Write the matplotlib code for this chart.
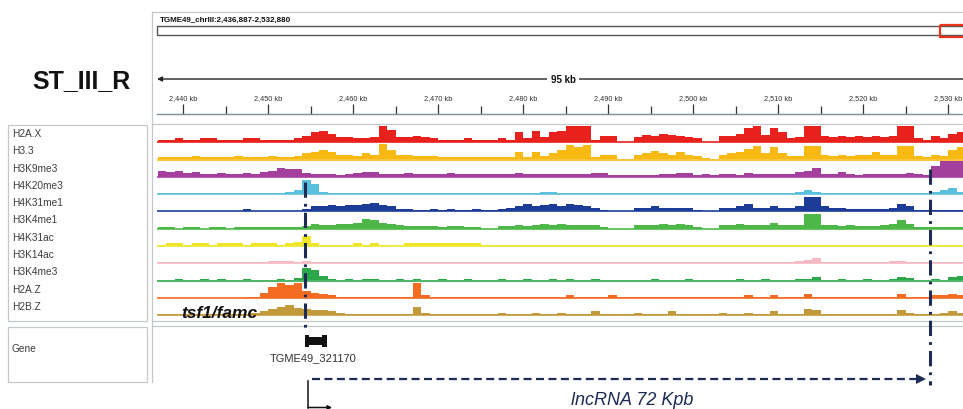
import numpy as np
import matplotlib
matplotlib.use('Agg')
import matplotlib.pyplot as plt
from matplotlib.patches import Rectangle
from matplotlib.ticker import FuncFormatter

plt.rcParams['font.family'] = ['Liberation Sans', 'DejaVu Sans']

W, H = 963, 410

# genomic window shown (kb) and 1 kb bins for the coverage tracks
view_start = 2436.887
view_end = 2531.76
bin_edges = np.arange(2437, 2533)
major_ticks = np.arange(2440, 2531, 10)
minor_ticks = np.arange(2445, 2531, 10)

# gene / lncRNA annotation (kb)
gene_start = 2454.35
gene_end = 2456.9
tss = 2454.7
lnc_end = 2527.9

# coverage values, one value per 1 kb bin
h2ax = [2, 2, 3, 2, 2, 3, 3, 2, 2, 2,
        3, 3, 2, 2, 2, 2, 3, 5, 8, 9,
        7, 4, 4, 3, 3, 4, 15, 10, 4, 4,
        5, 4, 3, 2, 2, 2, 3, 2, 2, 2,
        3, 2, 8, 3, 9, 4, 8, 9, 14, 13,
        14, 2, 5, 5, 0, 0, 4, 6, 5, 7,
        6, 5, 4, 3, 0, 0, 5, 5, 7, 12,
        13, 6, 12, 8, 3, 4, 14, 14, 5, 4,
        5, 4, 5, 4, 5, 4, 5, 14, 14, 3,
        2, 5, 3, 7, 8]
h33 = [2, 2, 2, 2, 3, 2, 2, 2, 2, 3,
       2, 2, 2, 3, 2, 2, 3, 5, 6, 8,
       6, 4, 4, 3, 5, 4, 13, 8, 4, 4,
       3, 3, 3, 2, 2, 2, 2, 2, 2, 2,
       2, 2, 6, 2, 6, 3, 5, 8, 12, 10,
       12, 2, 4, 4, 0, 0, 4, 5, 7, 5,
       4, 6, 4, 3, 1, 0, 4, 5, 6, 9,
       11, 5, 10, 5, 3, 3, 11, 11, 4, 3,
       4, 3, 4, 4, 6, 4, 4, 11, 11, 3,
       2, 4, 3, 8, 10]
h3k9me3 = [5, 4, 5, 3, 4, 2, 2, 3, 2, 2,
           3, 2, 4, 5, 7, 6, 6, 3, 2, 2,
           2, 1, 2, 3, 4, 4, 2, 2, 2, 3,
           2, 2, 2, 2, 3, 2, 2, 2, 2, 2,
           2, 2, 3, 2, 2, 2, 2, 2, 2, 2,
           2, 3, 3, 1, 1, 1, 1, 1, 1, 2,
           2, 3, 3, 1, 2, 1, 2, 2, 1, 3,
           2, 2, 2, 2, 2, 4, 5, 7, 2, 2,
           4, 2, 1, 2, 2, 2, 2, 2, 3, 2,
           1, 9, 13, 13, 13]
h4k20me3 = [.5, .5, 1, .5, .5, 1, .5, .5, .5, 1,
            .5, .5, .5, 1, 1, 2, 3, 12, 8, 2,
            1, .5, .5, 1, .5, .5, .5, 1, .5, .5,
            .5, .5, 1, .5, .5, .5, .5, .5, .5, 1,
            .5, .5, .5, .5, 1, 1.5, 1.5, 1, .5, .5,
            .5, .5, .5, .5, .5, .5, .5, .5, .5, .5,
            .5, .5, .5, .5, .5, .5, .5, 1, .5, .5,
            .5, .5, 1, .5, .5, 2, 3, 2, 1, .5,
            .5, .5, .5, .5, 1, .5, .5, .5, 1, .5,
            .5, 2, 3, 5, 2]
h4k31me1 = [0, 0, 0, 0, 0, 0, 0, 0, 0, 0,
            2, 0, 0, 0, 0, 0, 0, 2, 4, 4,
            5, 4, 5, 5, 6, 7, 5, 4, 2, 2,
            1, 1, 2, 1, 2, 1, 1, 2, 1, 1,
            2, 3, 4, 6, 4, 5, 6, 4, 6, 5,
            4, 3, 1, 0, 0, 0, 3, 3, 4, 3,
            3, 3, 3, 1, 0, 0, 3, 3, 4, 6,
            3, 3, 4, 3, 3, 4, 12, 12, 4, 3,
            3, 2, 2, 2, 2, 2, 3, 6, 4, 1,
            1, 1, 1, 1, 1]
h3k4me1 = [1, 1, 0, 1, 1, 0, 1, 1, 0, 1,
           1, 1, 1, 1, 1, 1, 1, 2, 4, 3,
           3, 4, 4, 5, 8, 7, 5, 4, 3, 2,
           2, 2, 2, 1, 2, 2, 1, 1, 0, 0,
           2, 2, 3, 2, 3, 4, 3, 4, 3, 3,
           3, 3, 1, 0, 0, 0, 3, 3, 3, 4,
           3, 4, 3, 1, 0, 0, 3, 3, 4, 3,
           3, 3, 5, 3, 3, 3, 12, 12, 3, 3,
           2, 3, 2, 2, 2, 3, 4, 7, 4, 1,
           1, 1, 1, 1, 1]
h4k31ac = [1, 2, 2, 1, 2, 2, 1, 2, 2, 2,
           1, 2, 2, 2, 1, 2, 3, 8, 2, 1,
           1, 1, 1, 2, 1, 2, 1, 0, 0, 2,
           2, 2, 2, 2, 2, 2, 2, 2, 1, .5,
           .5, .5, .5, .5, .5, .5, .5, .5, .5, .5,
           .5, .5, .5, .5, .5, .5, .5, .5, .5, .5,
           .5, .5, .5, .5, .5, .5, 1, .5, .5, 1,
           .5, .5, .5, .5, .5, .5, .5, 1, .5, .5,
           .5, .5, .5, .5, .5, .5, 1, .5, .5, .5,
           .5, .5, .5, .5, .5]
h3k14ac = [1, 1, 1, 1, 1, 1, 1, 1, 1, 1,
           1, 1, 1, 2, 2, 2, 1, 2, 1, 1,
           1, 1, 1, 1, 1, 1, 1, 1, 1, 1,
           1, 1, 1, 1, 1, 1, 1, 1, 1, 1,
           1, 1, 1, 1, 1, 1, 1, 1, 1, 1,
           1, 1, 1, 1, 1, 1, 1, 1, 1, 1,
           1, 1, 1, 1, 1, 1, 1, 1, 1, 1,
           1, 1, 1, 1, 1, 2, 3, 4, 1, 1,
           1, 1, 1, 1, 1, 1, 2, 2, 1, 1,
           1, 1, 1, 1, 1]
h3k4me3 = [.5, .5, 1, .5, .5, 1, .5, 1.5, .5, .5,
           1, .5, .5, .5, 1, .5, 2, 10, 9, 4,
           1, .5, 1, .5, 1, 1.5, .5, .5, 1, .5,
           1, .5, .5, 1, .5, .5, 1, .5, .5, .5,
           1, .5, .5, 1, .5, .5, 1, .5, 1, .5,
           .5, 1, .5, .5, .5, .5, .5, .5, 1, .5,
           .5, .5, 1, .5, .5, .5, .5, .5, 1, .5,
           .5, 1, .5, .5, .5, 1, 1, 3, .5, .5,
           1, .5, .5, 1, .5, .5, 1, 3, 2, .5,
           .5, 1, .5, 3, 4]
h2az = [0, 0, 0, 0, 0, 0, 0, 0, 0, 0,
        1, 1, 4, 9, 12, 11, 12, 6, 4, 3,
        2, 1, 1, 1, 1, 1, 1, 1, 1, 1,
        12, 2, 1, .5, .5, 1, .5, .5, .5, .5,
        .5, .5, 1, .5, .5, .5, .5, 1, 2, .5,
        .5, .5, .5, 2, .5, .5, .5, .5, .5, .5,
        .5, .5, .5, .5, .5, .5, .5, .5, .5, 2,
        .5, .5, 2, .5, .5, .5, 3, 1, .5, .5,
        .5, .5, .5, .5, .5, .5, 1, 3, 1, .5,
        .5, 2, 2, 3, 2]
h2bz = [1, 1, 1, 1, 1, 1, 1, 1, 1, 1,
        1, 2, 3, 5, 7, 8, 6, 5, 4, 4,
        3, 2, 1, 1, 1, 1, 1, 1, 1, 1,
        7, 2, 1, 1, 1, 1, 1, 1, 1, 1,
        2, 1, 1, 1, 2, 1, 1, 2, 1, 1,
        1, 3, 1, 1, 1, 1, 2, 1, 1, 1,
        3, 1, 1, 1, 1, 1, 2, 1, 1, 2,
        1, 1, 3, 1, 1, 1, 5, 4, 1, 1,
        1, 1, 1, 1, 1, 1, 1, 4, 2, 1,
        1, 1, 2, 3, 2]

track_names = ['H2A.X', 'H3.3', 'H3K9me3', 'H4K20me3', 'H4K31me1', 'H3K4me1',
               'H4K31ac', 'H3K14ac', 'H3K4me3', 'H2A.Z', 'H2B.Z']
track_values = [h2ax, h33, h3k9me3, h4k20me3, h4k31me1, h3k4me1,
                h4k31ac, h3k14ac, h3k4me3, h2az, h2bz]
track_colors = ['#e8211c', '#f8b912', '#a43f9e', '#5bc0dd', '#1c3c98', '#4db848',
                '#efe62a', '#f6b9c3', '#2ca84b', '#f36c21', '#c39a3b']

navy = '#1d2b55'
border = '#c4c8cc'


def rect(x0, y0, x1, y1):
    # pixel box -> figure fraction
    return [x0 / W, 1 - y1 / H, (x1 - x0) / W, (y1 - y0) / H]


fig = plt.figure(figsize=(W / 100, H / 100), dpi=100)

# coverage tracks (data range clipped like the browser does -> flat tops)
for i, (name, vals, col) in enumerate(zip(track_names, track_values, track_colors)):
    base = 143 + 17.3 * i
    ax = fig.add_axes(rect(157, base - 16.1, 963, base + 1.2))
    ax.stairs(vals, bin_edges, fill=True, color=col, baseline=0, lw=0)
    ax.axhline(-0.2, color=col, lw=1.4, alpha=0.85)
    ax.set_xlim(view_start, view_end)
    ax.set_ylim(-1.0, 13.5)
    ax.set_facecolor('none')
    ax.axis('off')

# ruler
rl = fig.add_axes(rect(157, 115, 963, 116))
rl.set_xlim(view_start, view_end)
rl.set_ylim(0, 1)
rl.set_facecolor('none')
for s in ['left', 'right', 'bottom']:
    rl.spines[s].set_visible(False)
rl.spines['top'].set_color('#7f8c99')
rl.spines['top'].set_linewidth(1.0)
rl.xaxis.tick_top()
rl.set_xticks(major_ticks)
rl.set_xticks(minor_ticks, minor=True)
rl.xaxis.set_major_formatter(FuncFormatter(lambda v, p: f'{int(v):,} kb'))
rl.tick_params(axis='x', which='major', direction='out', length=7, width=0.9,
               color='#333333', labelsize=5.3, labelcolor='#333333', pad=2.5)
rl.tick_params(axis='x', which='minor', direction='out', length=6, width=0.9,
               color='#333333')
rl.set_yticks([])

# layout frame, labels
fr = fig.add_axes([0, 0, 1, 1])
fr.set_xlim(0, W)
fr.set_ylim(H, 0)
fr.axis('off')
fr.set_facecolor('none')
fr.set_zorder(10)

fr.plot([152, 963], [13, 13], color=border, lw=0.9)
fr.plot([152, 152], [13, 383], color=border, lw=0.9)
fr.plot([152, 963], [125, 125], color=border, lw=0.9)
fr.plot([152, 963], [322, 322], color=border, lw=0.9)
fr.plot([152, 963], [327, 327], color=border, lw=0.9)
fr.add_patch(Rectangle((8, 126), 139, 196, fill=False, ec=border, lw=0.9))
fr.add_patch(Rectangle((8, 328), 139, 55, fill=False, ec=border, lw=0.9))

fr.text(32, 88, 'ST_III_R', fontsize=18, fontweight='bold', color='#111111',
        va='baseline', ha='left')
fr.text(160, 20, 'TGME49_chrIII:2,436,887-2,532,880', fontsize=5.8,
        fontweight='bold', color='#111111', va='center', ha='left')

# chromosome ideogram with current-view box
fr.add_patch(Rectangle((157, 27), 820, 9, fill=False, ec='#555555', lw=1.0))
fr.add_patch(Rectangle((940, 25.5), 30, 12, fill=False, ec='#e8321e', lw=1.6))

# span line
fr.annotate('', xy=(157, 80), xytext=(963, 80),
            arrowprops=dict(arrowstyle='-|>', color='#222222', lw=1.0,
                            mutation_scale=7, shrinkA=0, shrinkB=0))
fr.text(563, 80, '95 kb', fontsize=7, fontweight='bold', color='#111111',
        ha='center', va='center',
        bbox=dict(boxstyle='square,pad=0.35', fc='white', ec='none'))

for i, name in enumerate(track_names):
    fr.text(12, 134 + 17.3 * i, name, fontsize=7.3, color='#3c3c3c',
            ha='left', va='center')
fr.text(12, 349, 'Gene', fontsize=7.3, color='#3c3c3c', ha='left', va='center')

fr.text(181, 318, 'tsf1/famc', fontsize=12.5, fontweight='bold', style='italic',
        color='#111111', ha='left', va='baseline')
fr.text(632, 405.5, 'lncRNA 72 Kpb', fontsize=13, style='italic', color=navy,
        ha='center', va='baseline')

# annotations in genome coordinates
an = fig.add_axes(rect(157, 0, 963, H))
an.set_xlim(view_start, view_end)
an.set_ylim(H, 0)
an.axis('off')
an.set_facecolor('none')
an.set_zorder(11)

dashdot = (0, (5, 2.0, 0.9, 2.0))
an.plot([gene_start, gene_start], [183, 334], color=navy, lw=2.2, ls=dashdot)
an.plot([lnc_end, lnc_end], [170, 386], color=navy, lw=2.2, ls=dashdot)

# gene glyph
an.add_patch(Rectangle((gene_start, 338), gene_end - gene_start, 8, color='#111111', lw=0))
an.add_patch(Rectangle((gene_start, 335.5), 0.45, 12, color='#111111', lw=0))
an.add_patch(Rectangle((gene_end - 0.55, 335.5), 0.55, 12, color='#111111', lw=0))
an.text((gene_start + gene_end) / 2 - 0.4, 358, 'TGME49_321170', fontsize=8,
        color='#333333', ha='center', va='center')

# lncRNA dashed arrow
an.plot([tss + 0.4, lnc_end - 1.3], [380, 380], color=navy, lw=1.6,
        ls=(0, (3.6, 2.0)))
an.plot([lnc_end - 1.1], [380], marker='>', ms=7, color=navy, mew=0)

# TSS arrow
an.plot([tss, tss], [382, 409], color='#111111', lw=1.1)
an.annotate('', xy=(gene_end + 0.6, 408.5), xytext=(tss, 408.5),
            arrowprops=dict(arrowstyle='-|>', color='#111111', lw=1.1,
                            mutation_scale=6, shrinkA=0, shrinkB=0),
            annotation_clip=False)

fig.savefig('out.png', dpi=100, facecolor='white')
